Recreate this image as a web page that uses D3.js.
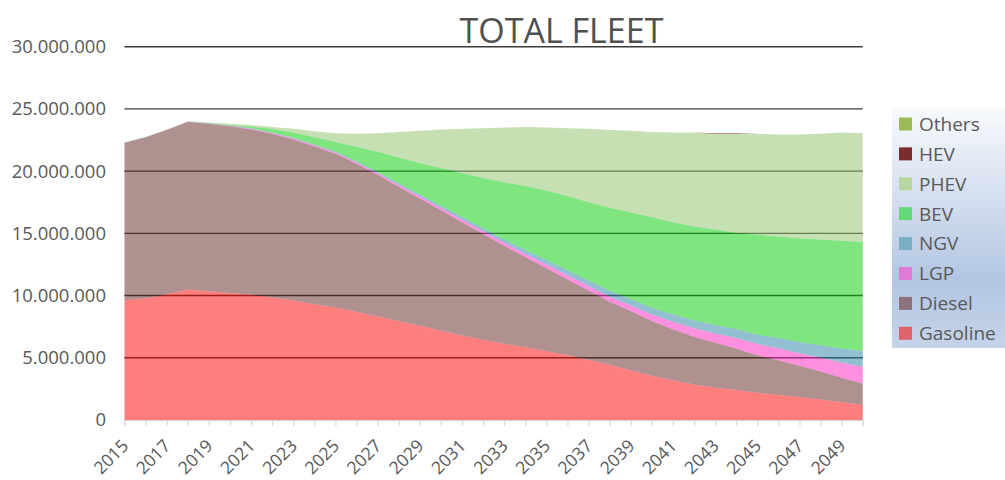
<!DOCTYPE html>
<html>
<head>
<meta charset="utf-8">
<script src="https://cdn.jsdelivr.net/npm/d3@7"></script>
<style>
  html, body { margin: 0; padding: 0; background: #ffffff; }
  svg { display: block; font-family: "Open Sans", "Noto Sans", sans-serif; }
</style>
</head>
<body>
<svg id="chart" width="1005" height="480"></svg>
<script>
// Fleet composition by powertrain, thousands of vehicles per year
const years = d3.range(2015, 2051);
const gasoline = [9630, 9760, 10100, 10480, 10350, 10200, 10080, 9850, 9600, 9300, 9050, 8700, 8320, 7960, 7600, 7200, 6800, 6450, 6120, 5850, 5550, 5200, 4850, 4450, 4000, 3550, 3200, 2850, 2600, 2420, 2200, 2000, 1850, 1650, 1450, 1200];
const diesel = [12650, 12960, 13210, 13470, 13450, 13400, 13270, 13150, 12950, 12700, 12350, 11900, 11380, 10790, 10200, 9650, 9100, 8500, 7880, 7250, 6650, 6100, 5550, 5050, 4750, 4400, 4100, 3850, 3600, 3330, 3000, 2800, 2500, 2250, 1950, 1740];
const lgp = [10, 10, 10, 20, 30, 40, 50, 60, 70, 80, 90, 100, 120, 140, 160, 180, 200, 220, 240, 270, 300, 330, 370, 410, 460, 520, 600, 680, 760, 840, 900, 960, 1020, 1100, 1200, 1330];
const ngv = [10, 10, 10, 10, 20, 30, 40, 50, 60, 70, 80, 100, 120, 140, 160, 180, 210, 240, 280, 320, 360, 400, 440, 480, 520, 560, 600, 640, 680, 720, 760, 820, 900, 1000, 1150, 1300];
const bev = [0, 0, 0, 0, 20, 50, 140, 270, 420, 600, 780, 1150, 1610, 2070, 2530, 3040, 3540, 4040, 4580, 5110, 5590, 5970, 6290, 6660, 6970, 7270, 7400, 7530, 7660, 7740, 8040, 8170, 8330, 8500, 8650, 8730];
const phev = [0, 10, 20, 20, 30, 80, 120, 170, 300, 450, 700, 1050, 1500, 2050, 2600, 3100, 3550, 4000, 4400, 4750, 5050, 5450, 5900, 6250, 6550, 6850, 7200, 7550, 7710, 7960, 8100, 8200, 8350, 8500, 8700, 8750];
const hev = [0, 0, 0, 0, 0, 0, 0, 0, 0, 0, 0, 0, 0, 0, 0, 0, 0, 0, 0, 0, 0, 0, 0, 0, 0, 0, 0, 0, 40, 40, 0, 0, 0, 0, 0, 0];
const others = [0, 0, 0, 0, 0, 0, 0, 0, 0, 0, 0, 0, 0, 0, 0, 0, 0, 0, 0, 0, 0, 0, 0, 0, 0, 0, 0, 0, 0, 0, 0, 0, 0, 0, 0, 0];
const UNIT = 1000;

const seriesNames = ["Gasoline", "Diesel", "LGP", "NGV", "BEV", "PHEV", "HEV", "Others"];
const seriesValues = [gasoline, diesel, lgp, ngv, bev, phev, hev, others];
const yTicks = [0, 5000000, 10000000, 15000000, 20000000, 25000000, 30000000];
const xLabelYears = d3.range(2015, 2050, 2);
const title = "TOTAL FLEET";

// fill colours for the stacked areas (drawn half transparent) and the legend swatches
const areaFill = { Gasoline: "#ff0000", Diesel: "#602420", LGP: "#ff20c0", NGV: "#2682a2", BEV: "#00cb00", PHEV: "#8dc169", HEV: "#7b2828", Others: "#9bbb59" };
const areaOpacity = { Gasoline: 0.5, Diesel: 0.5, LGP: 0.5, NGV: 0.5, BEV: 0.5, PHEV: 0.5, HEV: 1, Others: 1 };
const swatch = { Others: "#9bbb59", HEV: "#7b2c2c", PHEV: "#b7d6a3", BEV: "#66d878", NGV: "#7aafc3", LGP: "#de7bd6", Diesel: "#8b737c", Gasoline: "#e0626c" };

const table = years.map((yr, i) => {
  const row = { year: yr };
  seriesNames.forEach((n, k) => { row[n] = seriesValues[k][i] * UNIT; });
  return row;
});

const svg = d3.select("#chart");
const plotLeft = 124.5, plotRight = 862.8, plotTop = 46.7, plotBottom = 420;

const x = d3.scaleLinear().domain([2015, 2050]).range([plotLeft, plotRight]);
const y = d3.scaleLinear().domain([0, 30000000]).range([plotBottom, plotTop]);

const locale = d3.formatLocale({ decimal: ",", thousands: ".", grouping: [3], currency: ["", "€"] });
const fmt = locale.format(",");

// horizontal gridlines sit beneath the translucent areas
svg.append("g")
  .selectAll("line")
  .data(yTicks.filter(d => d > 0))
  .join("line")
  .attr("x1", plotLeft).attr("x2", plotRight)
  .attr("y1", d => y(d)).attr("y2", d => y(d))
  .attr("stroke", "#3a3a3a")
  .attr("stroke-width", 1.4);

const stack = d3.stack().keys(seriesNames);
const layers = stack(table);

const area = d3.area()
  .x(d => x(d.data.year))
  .y0(d => y(d[0]))
  .y1(d => y(d[1]));

svg.append("g")
  .selectAll("path")
  .data(layers)
  .join("path")
  .attr("d", area)
  .attr("fill", d => areaFill[d.key])
  .attr("fill-opacity", d => areaOpacity[d.key]);

// y axis labels
const yAxis = d3.axisLeft(y).tickValues(yTicks).tickFormat(fmt).tickSize(0).tickPadding(0);
const yg = svg.append("g").attr("transform", "translate(106,0)").call(yAxis);
yg.select(".domain").remove();
yg.selectAll("text")
  .attr("fill", "#595959")
  .style("font-size", "18.5px")
  .style("font-family", "'Open Sans', sans-serif");

// x axis with a tick for every year and rotated labels every two years
const xAxis = d3.axisBottom(x).tickValues(years).tickSize(6).tickFormat("");
const xg = svg.append("g").attr("transform", `translate(0,${plotBottom})`).call(xAxis);
xg.select(".domain").attr("stroke", "#d9d9d9").attr("stroke-width", 1.2);
xg.selectAll(".tick line").attr("stroke", "#d9d9d9").attr("stroke-width", 1.2);

svg.append("g")
  .selectAll("text")
  .data(xLabelYears)
  .join("text")
  .attr("transform", d => `translate(${x(d) + 5},${plotBottom + 27}) rotate(-45)`)
  .attr("text-anchor", "end")
  .attr("fill", "#595959")
  .style("font-size", "17.5px")
  .text(d => d);

// title
svg.append("text")
  .attr("x", 561.5)
  .attr("y", 43)
  .attr("text-anchor", "middle")
  .attr("fill", "#505050")
  .style("font-size", "34px")
  .text(title);

// legend box with vertical gradient
const defs = svg.append("defs");
const grad = defs.append("linearGradient").attr("id", "legendBg").attr("x1", 0).attr("y1", 0).attr("x2", 0).attr("y2", 1);
grad.append("stop").attr("offset", "0%").attr("stop-color", "#f8fafd");
grad.append("stop").attr("offset", "72%").attr("stop-color", "#b2c5e2");
grad.append("stop").attr("offset", "100%").attr("stop-color", "#c6d4ea");

const legend = svg.append("g").attr("transform", "translate(892,108)");
legend.append("rect").attr("width", 113).attr("height", 240).attr("fill", "url(#legendBg)");

const legendOrder = seriesNames.slice().reverse();
const item = legend.selectAll("g.item")
  .data(legendOrder)
  .join("g")
  .attr("class", "item")
  .attr("transform", (d, i) => `translate(0,${16 + i * 29.9})`);
item.append("rect")
  .attr("x", 7).attr("y", -6.5)
  .attr("width", 13).attr("height", 13)
  .attr("fill", d => swatch[d]);
item.append("text")
  .attr("x", 27).attr("y", 0)
  .attr("dy", "0.36em")
  .attr("fill", "#595959")
  .style("font-size", "19px")
  .text(d => d);
</script>
</body>
</html>
